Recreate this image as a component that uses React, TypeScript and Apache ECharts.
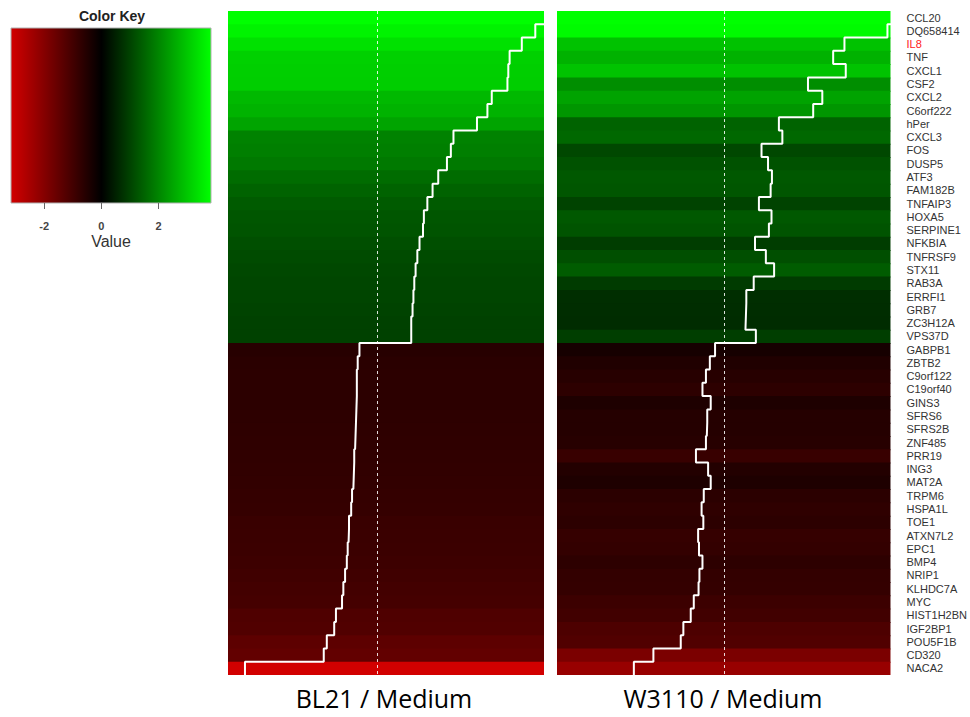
import React, { useEffect, useRef } from "react";
import * as echarts from "echarts";

const genes = [
  "CCL20", "DQ658414", "IL8", "TNF", "CXCL1", "CSF2", "CXCL2", "C6orf222", "hPer", "CXCL3",
  "FOS", "DUSP5", "ATF3", "FAM182B", "TNFAIP3", "HOXA5", "SERPINE1", "NFKBIA", "TNFRSF9", "STX11",
  "RAB3A", "ERRFI1", "GRB7", "ZC3H12A", "VPS37D", "GABPB1", "ZBTB2", "C9orf122", "C19orf40", "GINS3",
  "SFRS6", "SFRS2B", "ZNF485", "PRR19", "ING3", "MAT2A", "TRPM6", "HSPA1L", "TOE1", "ATXN7L2",
  "EPC1", "BMP4", "NRIP1", "KLHDC7A", "MYC", "HIST1H2BN", "IGF2BP1", "POU5F1B", "CD320", "NACA2",
];

const bl21 = [
  3.9, 3.62, 3.31, 3.03, 3.0, 2.98, 2.62, 2.52, 2.28, 1.74,
  1.68, 1.59, 1.39, 1.26, 1.14, 1.06, 1.04, 0.96, 0.91, 0.87,
  0.84, 0.82, 0.8, 0.77, 0.77, -0.42, -0.46, -0.48, -0.48, -0.49,
  -0.5, -0.51, -0.52, -0.54, -0.55, -0.56, -0.59, -0.61, -0.66, -0.67,
  -0.69, -0.71, -0.75, -0.79, -0.82, -0.96, -1.0, -1.17, -1.24, -3.05,
];

const w3110 = [
  3.9, 3.76, 2.77, 2.51, 2.8, 1.93, 2.26, 2.05, 1.26, 1.34,
  0.86, 1.01, 1.1, 1.07, 0.8, 1.09, 1.03, 0.71, 0.96, 1.15,
  0.68, 0.51, 0.5, 0.49, 0.73, -0.21, -0.33, -0.42, -0.5, -0.31,
  -0.39, -0.4, -0.42, -0.65, -0.37, -0.31, -0.47, -0.52, -0.48, -0.6,
  -0.58, -0.5, -0.57, -0.59, -0.7, -0.77, -0.94, -1.0, -1.63, -2.08,
];

const keyTicks = [-2, 0, 2];
const KEY_MIN = -3.16;
const KEY_MAX = 3.83;
const COLOR_LIMIT = 3.83;
const panelTitles = ["BL21 / Medium", "W3110 / Medium"];
const highlightGene = "IL8";

const LEFT_RANGE = [-3.44, 3.82];
const RIGHT_RANGE = [-3.85, 3.83];

function colorOf(v: number, gamma = 0.85): string {
  let t = v / COLOR_LIMIT;
  if (t > 1) t = 1;
  if (t < -1) t = -1;
  const c = Math.round(Math.pow(Math.abs(t), gamma) * 255);
  return t >= 0 ? `rgb(0,${c},0)` : `rgb(${c},0,0)`;
}

function heatRenderer(xmin: number, xmax: number) {
  return (params: any, api: any) => {
    const v = api.value(0);
    const i = api.value(1);
    const a = api.coord([xmin, i]);
    const b = api.coord([xmax, i + 1]);
    const last = i >= genes.length - 1;
    return {
      type: "rect",
      shape: { x: a[0], y: a[1], width: b[0] - a[0], height: b[1] - a[1] + (last ? 0 : 1) },
      style: { fill: colorOf(v) },
    };
  };
}

function traceSeries(values: number[], idx: number) {
  return {
    type: "line",
    xAxisIndex: idx,
    yAxisIndex: idx,
    data: values.flatMap((v, i) => [[v, i], [v, i + 1]]),
    symbol: "none",
    showSymbol: false,
    lineStyle: { color: "#ffffff", width: 2 },
    z: 3,
    clip: true,
    silent: true,
    markLine: {
      silent: true,
      symbol: ["none", "none"],
      label: { show: false },
      lineStyle: { color: "rgba(255,255,255,0.85)", type: [3, 3], width: 1 },
      data: [{ xAxis: 0 }],
    },
  };
}

export default function App() {
  const ref = useRef<HTMLDivElement>(null);
  useEffect(() => {
    if (!ref.current) return;
    const chart = echarts.init(ref.current, null, { renderer: "svg" });
    const zeroFrac = (0 - KEY_MIN) / (KEY_MAX - KEY_MIN);
    const keyGradient = new echarts.graphic.LinearGradient(0, 0, 1, 0, [
      { offset: 0, color: colorOf(KEY_MIN, 1) },
      { offset: zeroFrac, color: "#000000" },
      { offset: 1, color: colorOf(KEY_MAX, 1) },
    ]);
    const font = "'Liberation Sans', Arial, sans-serif";
    const option: any = {
      animation: false,
      backgroundColor: "#ffffff",
      grid: [
        { left: 11, top: 28, width: 200, height: 175, show: true, backgroundColor: keyGradient, borderColor: "#b0b0b0", borderWidth: 1 },
        { left: 228, top: 11, width: 316, height: 664 },
        { left: 557, top: 11, width: 334, height: 664 },
      ],
      xAxis: [
        {
          gridIndex: 0,
          type: "value",
          min: KEY_MIN,
          max: KEY_MAX,
          axisLine: { show: false },
          splitLine: { show: false },
          axisTick: { show: true, customValues: keyTicks, length: 6, lineStyle: { color: "#666" } },
          axisLabel: { customValues: keyTicks, fontSize: 11, fontWeight: "bold", color: "#444", margin: 17, fontFamily: font },
          name: "Value",
          nameLocation: "middle",
          nameGap: 30,
          nameTextStyle: { fontSize: 16, color: "#333", fontFamily: font },
        },
        { gridIndex: 1, type: "value", min: LEFT_RANGE[0], max: LEFT_RANGE[1], show: false },
        { gridIndex: 2, type: "value", min: RIGHT_RANGE[0], max: RIGHT_RANGE[1], show: false },
      ],
      yAxis: [
        { gridIndex: 0, type: "value", min: 0, max: 1, show: false },
        { gridIndex: 1, type: "value", min: 0, max: 50, inverse: true, show: false },
        { gridIndex: 2, type: "value", min: 0, max: 50, inverse: true, show: false },
        {
          gridIndex: 2,
          type: "category",
          data: genes,
          inverse: true,
          position: "right",
          axisLine: { show: false },
          axisTick: { show: false },
          splitLine: { show: false },
          axisLabel: {
            interval: 0,
            fontSize: 11,
            margin: 16,
            fontFamily: font,
            color: (v: string) => (v === highlightGene ? "#ff2020" : "#333333"),
          },
        },
      ],
      series: [
        {
          type: "custom",
          xAxisIndex: 1,
          yAxisIndex: 1,
          renderItem: heatRenderer(LEFT_RANGE[0], LEFT_RANGE[1]),
          data: bl21.map((v, i) => [v, i]),
          silent: true,
          z: 1,
        },
        {
          type: "custom",
          xAxisIndex: 2,
          yAxisIndex: 2,
          renderItem: heatRenderer(RIGHT_RANGE[0], RIGHT_RANGE[1]),
          data: w3110.map((v, i) => [v, i]),
          silent: true,
          z: 1,
        },
        traceSeries(bl21, 1),
        traceSeries(w3110, 2),
      ],
      graphic: [
        {
          type: "text",
          x: 112,
          y: 16,
          style: { text: "Color Key", fill: "#222", font: `bold 14px ${font}`, textAlign: "center", textVerticalAlign: "middle", align: "center", verticalAlign: "middle" },
        },
        {
          type: "text",
          x: 384,
          y: 698,
          style: { text: panelTitles[0], fill: "#000", font: `25px 'Open Sans', sans-serif`, textAlign: "center", textVerticalAlign: "middle", align: "center", verticalAlign: "middle" },
        },
        {
          type: "text",
          x: 723,
          y: 698,
          style: { text: panelTitles[1], fill: "#000", font: `25px 'Open Sans', sans-serif`, textAlign: "center", textVerticalAlign: "middle", align: "center", verticalAlign: "middle" },
        },
      ],
    };
    chart.setOption(option);
    return () => chart.dispose();
  }, []);
  return <div ref={ref} style={{ position: "absolute", left: 0, top: 0, width: 970, height: 717 }} />;
}
